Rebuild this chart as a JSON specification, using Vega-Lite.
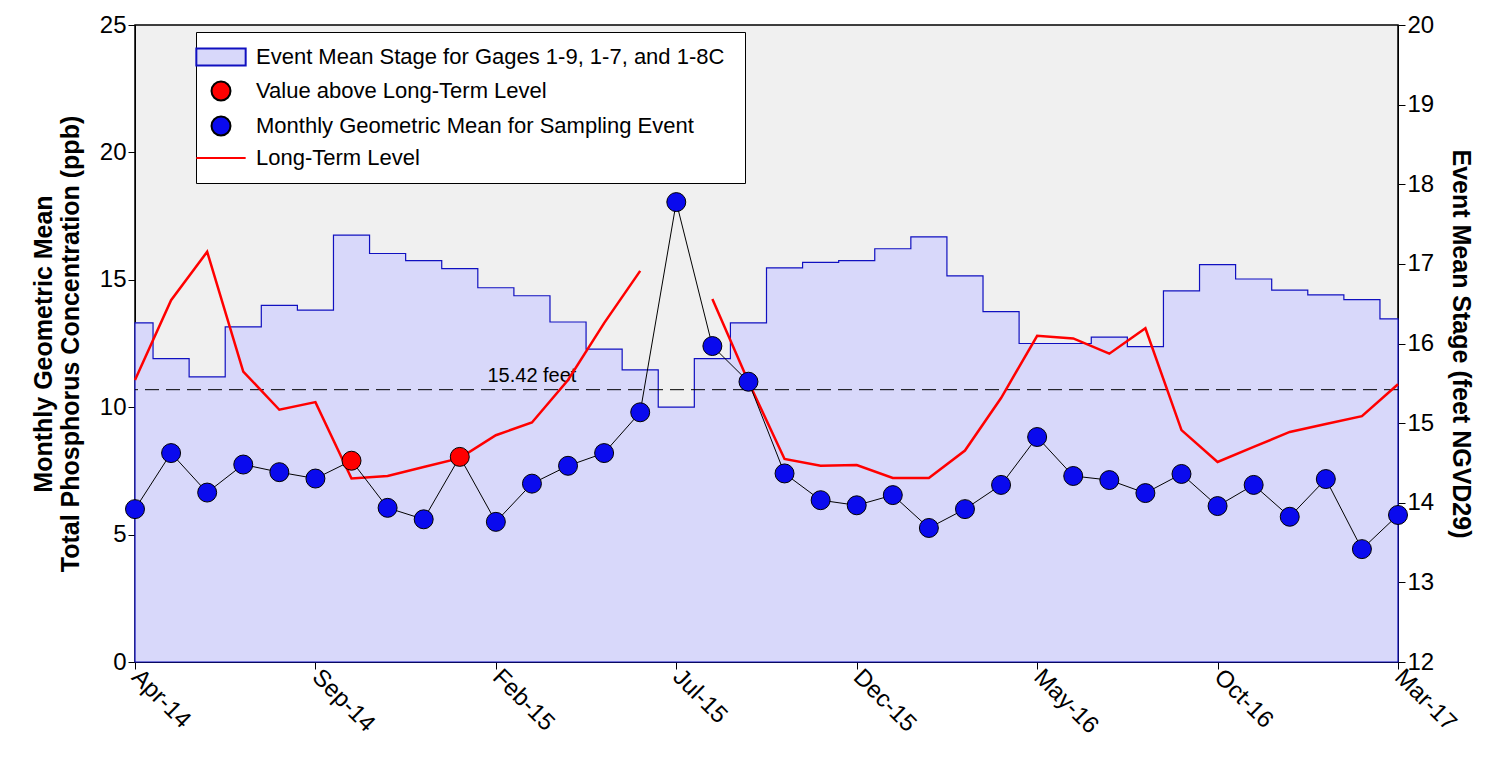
{
  "$schema": "https://vega.github.io/schema/vega-lite/v6.json",
  "width": 1263,
  "height": 637,
  "autosize": "none",
  "padding": {"left": 135, "top": 25, "right": 96, "bottom": 95},
  "background": "white",
  "config": {
    "view": {"fill": "#f0f0f0", "stroke": "black", "strokeWidth": 1.5},
    "axis": {"grid": false, "labelFont": "Liberation Sans", "titleFont": "Liberation Sans", "labelFontSize": 24, "titleFontSize": 25, "titleFontWeight": "bold", "labelColor": "black", "titleColor": "black", "domainColor": "black", "tickColor": "black", "tickSize": 7},
    "legend": {"labelFont": "Liberation Sans", "labelFontSize": 22, "labelColor": "black", "labelLimit": 0}
  },
  "data": {
    "values": [
      {"m": 0, "conc": 6.0, "level": 11.07, "stage": 16.26, "series": "Monthly Geometric Mean for Sampling Event"},
      {"m": 1, "conc": 8.2, "level": 14.2, "stage": 15.81, "series": "Monthly Geometric Mean for Sampling Event"},
      {"m": 2, "conc": 6.65, "level": 16.1, "stage": 15.58, "series": "Monthly Geometric Mean for Sampling Event"},
      {"m": 3, "conc": 7.75, "level": 11.4, "stage": 16.21, "series": "Monthly Geometric Mean for Sampling Event"},
      {"m": 4, "conc": 7.45, "level": 9.9, "stage": 16.48, "series": "Monthly Geometric Mean for Sampling Event"},
      {"m": 5, "conc": 7.2, "level": 10.2, "stage": 16.42, "series": "Monthly Geometric Mean for Sampling Event"},
      {"m": 6, "conc": 7.9, "level": 7.2, "stage": 17.36, "series": "Value above Long-Term Level"},
      {"m": 7, "conc": 6.05, "level": 7.3, "stage": 17.13, "series": "Monthly Geometric Mean for Sampling Event"},
      {"m": 8, "conc": 5.6, "level": 7.65, "stage": 17.04, "series": "Monthly Geometric Mean for Sampling Event"},
      {"m": 9, "conc": 8.05, "level": 8.0, "stage": 16.94, "series": "Value above Long-Term Level"},
      {"m": 10, "conc": 5.5, "level": 8.9, "stage": 16.7, "series": "Monthly Geometric Mean for Sampling Event"},
      {"m": 11, "conc": 7.0, "level": 9.4, "stage": 16.6, "series": "Monthly Geometric Mean for Sampling Event"},
      {"m": 12, "conc": 7.7, "level": 11.07, "stage": 16.27, "series": "Monthly Geometric Mean for Sampling Event"},
      {"m": 13, "conc": 8.2, "level": 13.3, "stage": 15.93, "series": "Monthly Geometric Mean for Sampling Event"},
      {"m": 14, "conc": 9.8, "level": 15.35, "stage": 15.67, "series": "Monthly Geometric Mean for Sampling Event"},
      {"m": 15, "conc": 18.05, "level": null, "stage": 15.2, "series": "Monthly Geometric Mean for Sampling Event"},
      {"m": 16, "conc": 12.4, "level": 14.25, "stage": 15.81, "series": "Monthly Geometric Mean for Sampling Event"},
      {"m": 17, "conc": 11.0, "level": 11.0, "stage": 16.26, "series": "Monthly Geometric Mean for Sampling Event"},
      {"m": 18, "conc": 7.4, "level": 7.97, "stage": 16.95, "series": "Monthly Geometric Mean for Sampling Event"},
      {"m": 19, "conc": 6.35, "level": 7.7, "stage": 17.02, "series": "Monthly Geometric Mean for Sampling Event"},
      {"m": 20, "conc": 6.15, "level": 7.73, "stage": 17.04, "series": "Monthly Geometric Mean for Sampling Event"},
      {"m": 21, "conc": 6.55, "level": 7.22, "stage": 17.19, "series": "Monthly Geometric Mean for Sampling Event"},
      {"m": 22, "conc": 5.26, "level": 7.22, "stage": 17.34, "series": "Monthly Geometric Mean for Sampling Event"},
      {"m": 23, "conc": 6.0, "level": 8.3, "stage": 16.85, "series": "Monthly Geometric Mean for Sampling Event"},
      {"m": 24, "conc": 6.95, "level": 10.36, "stage": 16.4, "series": "Monthly Geometric Mean for Sampling Event"},
      {"m": 25, "conc": 8.83, "level": 12.8, "stage": 16.0, "series": "Monthly Geometric Mean for Sampling Event"},
      {"m": 26, "conc": 7.3, "level": 12.7, "stage": 16.0, "series": "Monthly Geometric Mean for Sampling Event"},
      {"m": 27, "conc": 7.14, "level": 12.1, "stage": 16.08, "series": "Monthly Geometric Mean for Sampling Event"},
      {"m": 28, "conc": 6.63, "level": 13.1, "stage": 15.96, "series": "Monthly Geometric Mean for Sampling Event"},
      {"m": 29, "conc": 7.38, "level": 9.1, "stage": 16.66, "series": "Monthly Geometric Mean for Sampling Event"},
      {"m": 30, "conc": 6.12, "level": 7.85, "stage": 16.99, "series": "Monthly Geometric Mean for Sampling Event"},
      {"m": 31, "conc": 6.95, "level": 8.44, "stage": 16.81, "series": "Monthly Geometric Mean for Sampling Event"},
      {"m": 32, "conc": 5.7, "level": 9.03, "stage": 16.67, "series": "Monthly Geometric Mean for Sampling Event"},
      {"m": 33, "conc": 7.18, "level": 9.34, "stage": 16.61, "series": "Monthly Geometric Mean for Sampling Event"},
      {"m": 34, "conc": 4.43, "level": 9.65, "stage": 16.55, "series": "Monthly Geometric Mean for Sampling Event"},
      {"m": 35, "conc": 5.77, "level": 10.9, "stage": 16.31, "series": "Monthly Geometric Mean for Sampling Event"}
    ]
  },
  "layer": [
    {
      "layer": [
        {
          "mark": {"type": "area", "interpolate": "step", "fill": "#d8d8fa", "stroke": "#1010c0", "strokeWidth": 1.2},
          "encoding": {
            "x": {
              "field": "m", "type": "quantitative",
              "scale": {"domain": [0, 35], "nice": false, "zero": false},
              "axis": {"values": [0, 5, 10, 15, 20, 25, 30, 35], "title": null, "labelAngle": 45, "labelAlign": "left", "labelBaseline": "middle", "labelPadding": 4, "labelFlush": false, "labelBound": false,
                "labelExpr": "['Apr-14','Sep-14','Feb-15','Jul-15','Dec-15','May-16','Oct-16','Mar-17'][datum.value/5]"}
            },
            "y": {"field": "stage", "type": "quantitative", "scale": {"domain": [12, 20], "nice": false, "zero": false},
              "axis": {"orient": "right", "tickCount": 8, "title": "Event Mean Stage (feet NGVD29)", "titleAngle": 90, "titlePadding": 14}},
            "y2": {"datum": 12}
          }
        },
        {
          "data": {"values": [{"stage": 15.42, "note": "15.42 feet", "m": 11.0}]},
          "layer": [
            {
              "mark": {"type": "rule", "strokeDash": [14, 7], "color": "black", "strokeWidth": 1},
              "encoding": {"y": {"field": "stage", "type": "quantitative"}}
            },
            {
              "mark": {"type": "text", "font": "Liberation Sans", "fontSize": 20, "dy": -14},
              "encoding": {"y": {"field": "stage", "type": "quantitative"}, "x": {"field": "m", "type": "quantitative"}, "text": {"field": "note"}}
            }
          ]
        }
      ]
    },
    {
      "encoding": {"x": {"field": "m", "type": "quantitative"}},
      "layer": [
        {
          "mark": {"type": "line", "color": "red", "strokeWidth": 2.5, "invalid": "break-paths-show-domains"},
          "encoding": {
            "y": {"field": "level", "type": "quantitative", "scale": {"domain": [0, 25], "nice": false},
              "axis": {"orient": "left", "values": [0, 5, 10, 15, 20, 25], "title": ["Monthly Geometric Mean", "Total Phosphorus Concentration (ppb)"], "titlePadding": 16}}
          }
        },
        {
          "mark": {"type": "line", "color": "black", "strokeWidth": 1},
          "encoding": {"y": {"field": "conc", "type": "quantitative"}}
        },
        {
          "mark": {"type": "point", "filled": true, "size": 360, "strokeWidth": 1, "opacity": 1},
          "encoding": {
            "y": {"field": "conc", "type": "quantitative"},
            "fill": {"field": "series", "type": "nominal",
              "scale": {"domain": ["Event Mean Stage for Gages  1-9, 1-7, and 1-8C", "Value above Long-Term Level", "Monthly Geometric Mean for Sampling Event", "Long-Term Level"],
                "range": ["#d8d8fa", "red", "#0a0aee", "transparent"]},
              "legend": {"title": null, "orient": "none", "legendX": 61, "legendY": 7, "fillColor": "white", "strokeColor": "black", "padding": 14, "symbolSize": 360, "rowPadding": 7, "labelOffset": 24, "symbolStrokeWidth": 2}},
            "stroke": {"field": "series", "type": "nominal",
              "scale": {"domain": ["Event Mean Stage for Gages  1-9, 1-7, and 1-8C", "Value above Long-Term Level", "Monthly Geometric Mean for Sampling Event", "Long-Term Level"],
                "range": ["#1010c0", "black", "black", "red"]}},
            "shape": {"field": "series", "type": "nominal",
              "scale": {"domain": ["Event Mean Stage for Gages  1-9, 1-7, and 1-8C", "Value above Long-Term Level", "Monthly Geometric Mean for Sampling Event", "Long-Term Level"],
                "range": ["M-2.6,-0.9H2.6V0.9H-2.6Z", "circle", "circle", "M-2.6,0H2.6"]}}
          }
        }
      ]
    }
  ],
  "resolve": {"scale": {"y": "independent"}}
}
